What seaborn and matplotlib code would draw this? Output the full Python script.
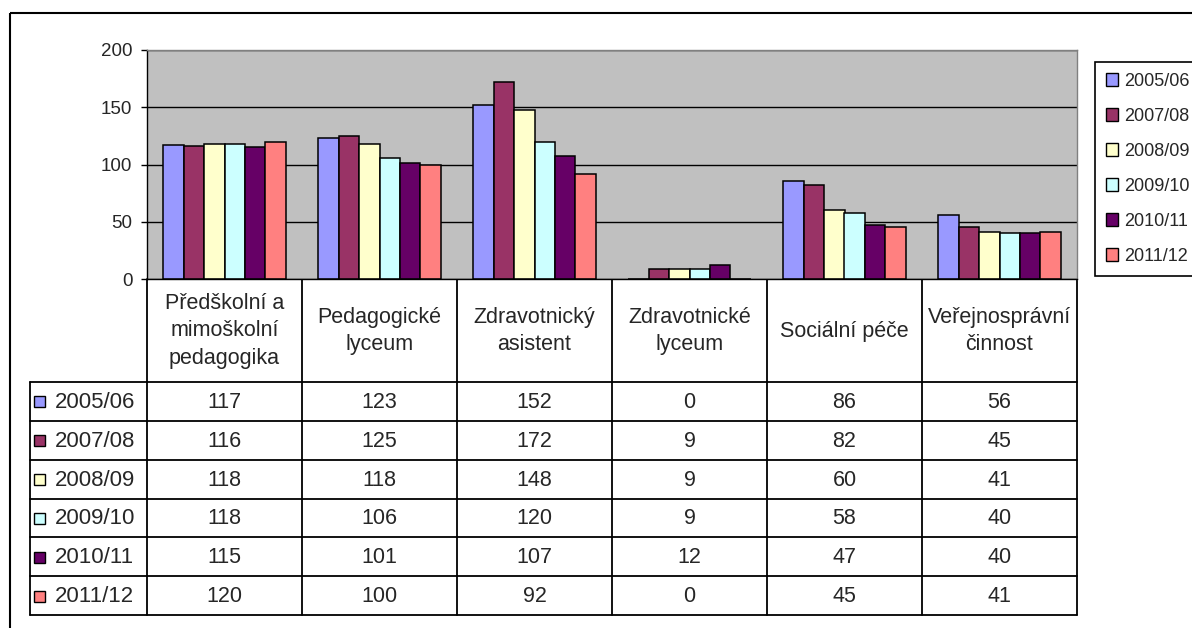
import numpy as np
import pandas as pd
import matplotlib
matplotlib.use("Agg")
import matplotlib.pyplot as plt
from matplotlib.patches import Rectangle
import seaborn as sns

# data
years = ["2005/06", "2007/08", "2008/09", "2009/10", "2010/11", "2011/12"]
obory = ["Předškolní a\nmimoškolní\npedagogika", "Pedagogické\nlyceum",
         "Zdravotnický\nasistent", "Zdravotnické\nlyceum", "Sociální péče",
         "Veřejnosprávní\nčinnost"]
v_2005 = [117, 123, 152, 0, 86, 56]
v_2007 = [116, 125, 172, 9, 82, 45]
v_2008 = [118, 118, 148, 9, 60, 41]
v_2009 = [118, 106, 120, 9, 58, 40]
v_2010 = [115, 101, 107, 12, 47, 40]
v_2011 = [120, 100, 92, 0, 45, 41]
colors = ["#9999FF", "#993366", "#FFFFCC", "#CCFFFF", "#660066", "#FF8080"]

series = [v_2005, v_2007, v_2008, v_2009, v_2010, v_2011]
df = pd.DataFrame([(o, y, v) for y, vals in zip(years, series) for o, v in zip(obory, vals)],
                  columns=["obor", "rok", "pocet"])

sns.set_style("white")
plt.rcParams["font.family"] = ["Liberation Sans", "DejaVu Sans"]

W, H = 1192, 628
fig = plt.figure(figsize=(W / 100, H / 100), dpi=100)


def fx(x):
    return x / W


def fy(y):
    return 1 - y / H


# overlay in pixel coords for the table and outer frame
ov = fig.add_axes([0, 0, 1, 1], zorder=0)
ov.set_xlim(0, W)
ov.set_ylim(H, 0)
ov.axis("off")

L, R, T, B = 147, 1077, 50, 279
ax = fig.add_axes([fx(L), fy(B), fx(R) - fx(L), fy(T) - fy(B)], zorder=1)
ax.set_facecolor("#C0C0C0")
sns.barplot(data=df, x="obor", y="pocet", hue="rok", palette=colors, saturation=1,
            width=0.79, gap=0, edgecolor="black", linewidth=1.1, ax=ax)
ax.set_ylim(0, 200)
ax.set_yticks([0, 50, 100, 150, 200])
ax.yaxis.grid(True, color="black", lw=1)
ax.set_axisbelow(True)
ax.set_xticks([])
ax.set_xlabel("")
ax.set_ylabel("")
ax.tick_params(axis="y", left=True, direction="out", length=4.5, width=1,
               labelsize=13.5, pad=6, color="black")
for s in ["top", "right"]:
    ax.spines[s].set_color("#808080")
for s in ["left", "bottom"]:
    ax.spines[s].set_color("black")
for s in ax.spines.values():
    s.set_linewidth(1)

sns.move_legend(ax, loc="upper left", bbox_to_anchor=(fx(1095), fy(62)),
                bbox_transform=fig.transFigure, title=None, frameon=True,
                fancybox=False, edgecolor="black", fontsize=13,
                handlelength=0.7, handleheight=0.7, labelspacing=1.0,
                borderaxespad=0, borderpad=0.6, handletextpad=0.3)
leg = ax.get_legend()
leg.get_frame().set_linewidth(1.2)
leg.get_frame().set_alpha(1)
for h in leg.legend_handles:
    h.set_edgecolor("black")
    h.set_linewidth(1)

# data table under the chart
col_x = np.linspace(L, R, len(obory) + 1)
row_y = np.linspace(382, 615, len(years) + 1)
lw = 1.3
for x in col_x:
    ov.plot([x, x], [B, row_y[-1]], color="black", lw=lw)
ov.plot([30, 30], [row_y[0], row_y[-1]], color="black", lw=lw)
for y in row_y:
    ov.plot([30, R], [y, y], color="black", lw=lw)

for i, o in enumerate(obory):
    xc = (col_x[i] + col_x[i + 1]) / 2
    ov.text(xc, 331, o, ha="center", va="center", fontsize=15.5,
            linespacing=1.42, multialignment="center")
    for j, vals in enumerate(series):
        yc = (row_y[j] + row_y[j + 1]) / 2 + 1
        ov.text(xc, yc, str(vals[i]), ha="center", va="center", fontsize=15.5)

for j, y in enumerate(years):
    yc = (row_y[j] + row_y[j + 1]) / 2 + 1
    ov.add_patch(Rectangle((34, yc - 6), 11, 11, facecolor=colors[j],
                           edgecolor="black", lw=1))
    ov.text(55, yc, y, ha="left", va="center", fontsize=16)

# outer chart border
ov.add_patch(Rectangle((10, 13), 1400, 800, fill=False, edgecolor="black",
                       lw=1.5, clip_on=False))

fig.savefig("out.png", dpi=100)
